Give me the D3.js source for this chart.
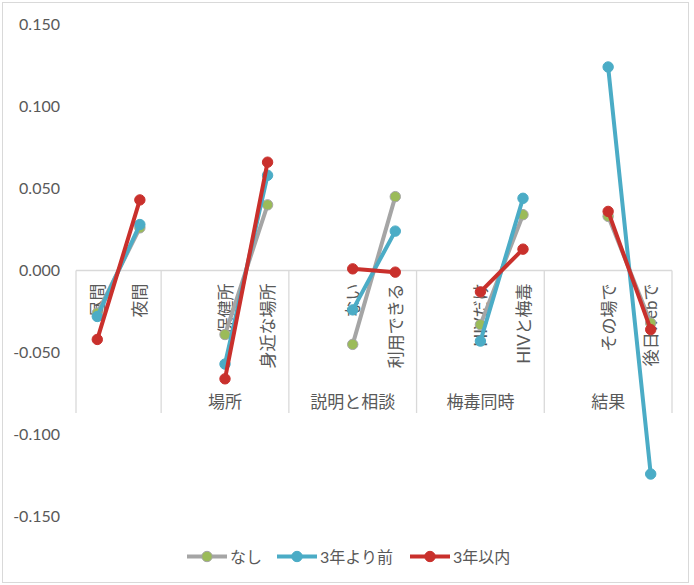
<!DOCTYPE html>
<html>
<head>
<meta charset="utf-8">
<script src="https://cdn.jsdelivr.net/npm/d3@7"></script>
<style>
  html, body { margin: 0; padding: 0; background: #fff; }
  svg { display: block; font-family: Lato, "Noto Sans CJK JP", sans-serif; }
</style>
</head>
<body>
<svg id="chart" width="694" height="585"></svg>
<script>
// Group headings and their sub-categories
const groupNames = ["", "場所", "説明と相談", "梅毒同時", "結果"];
const subCategories = [
  ["昼間", "夜間"],
  ["保健所", "身近な場所"],
  ["ない", "利用できる"],
  ["HIVだけ", "HIVと梅毒"],
  ["その場で", "後日webで"]
];

// Series names and values per group (two points per group)
const seriesNames = ["なし", "3年より前", "3年以内"];
const valuesNone   = [[-0.026, 0.026], [-0.039, 0.040], [-0.045, 0.045], [-0.033, 0.034], [0.033, -0.032]];
const valuesBefore = [[-0.028, 0.028], [-0.057, 0.058], [-0.024, 0.024], [-0.043, 0.044], [0.124, -0.124]];
const valuesWithin = [[-0.042, 0.043], [-0.066, 0.066], [0.001, -0.001], [-0.013, 0.013], [0.036, -0.036]];

const yTicks = [0.15, 0.10, 0.05, 0.00, -0.05, -0.10, -0.15];

const seriesValues = [valuesNone, valuesBefore, valuesWithin];
const seriesStyle = [
  { line: "#a5a5a5", fill: "#9bbb59", stroke: "#a5a5a5" },
  { line: "#4bacc6", fill: "#4bacc6", stroke: "#4bacc6" },
  { line: "#c9302c", fill: "#c9302c", stroke: "#c9302c" }
];

const textColor = "#595959";
const axisColor = "#d9d9d9";

const svg = d3.select("#chart");

// chart frame
svg.append("rect")
  .attr("x", 2.5).attr("y", 2.5)
  .attr("width", 686).attr("height", 580)
  .attr("fill", "#fff").attr("stroke", axisColor).attr("stroke-width", 1);

// Category slots: each group after the first starts with an empty slot
const slots = [];
const groupSlots = [];
subCategories.forEach((items, g) => {
  const ids = [];
  if (g > 0) { const id = "gap" + g; slots.push({ id, label: "" }); ids.push(id); }
  items.forEach((label, i) => {
    const id = "g" + g + "_" + i;
    slots.push({ id, label, g, i });
    ids.push(id);
  });
  groupSlots.push(ids);
});

const x = d3.scaleBand().domain(slots.map(s => s.id)).range([76, 672]).padding(0);
const y = d3.scaleLinear().domain([-0.15, 0.15]).range([516.7, 24.3]);
const cx = id => x(id) + x.bandwidth() / 2;
const y0 = y(0);

// value axis (labels only)
const fmt = d3.format(".3f");
const yAxis = d3.axisLeft(y)
  .tickValues(yTicks)
  .tickSize(0)
  .tickPadding(16)
  .tickFormat(d => fmt(d).replace("\u2212", "-"));
const gy = svg.append("g").attr("transform", "translate(76,0)").call(yAxis);
gy.select(".domain").remove();
gy.selectAll("text")
  .attr("fill", textColor)
  .style("font-size", "16px")
  .style("font-family", "Lato, 'Noto Sans CJK JP', sans-serif");

// category axis line at zero
const axisG = svg.append("g");
axisG.append("line")
  .attr("x1", x.range()[0]).attr("x2", x.range()[1])
  .attr("y1", y0).attr("y2", y0)
  .attr("stroke", axisColor).attr("stroke-width", 1.3);

// group dividers
const dividerX = groupSlots.map(ids => x(ids[0])).concat([x.range()[1]]);
axisG.selectAll("line.div")
  .data(dividerX)
  .join("line")
  .attr("class", "div")
  .attr("x1", d => d).attr("x2", d => d)
  .attr("y1", y0).attr("y2", 413)
  .attr("stroke", axisColor).attr("stroke-width", 1.3);

// sub-category labels (rotated)
axisG.selectAll("text.sub")
  .data(slots.filter(s => s.label))
  .join("text")
  .attr("class", "sub")
  .attr("transform", d => `translate(${cx(d.id)},${y0 + 13}) rotate(-90)`)
  .attr("text-anchor", "end")
  .attr("dominant-baseline", "central")
  .attr("fill", textColor)
  .style("font-size", "17px")
  .text(d => d.label);

// group labels
axisG.selectAll("text.grp")
  .data(groupNames.map((name, g) => ({ name, g })))
  .join("text")
  .attr("class", "grp")
  .attr("x", d => (dividerX[d.g] + dividerX[d.g + 1]) / 2)
  .attr("y", 401)
  .attr("text-anchor", "middle")
  .attr("dominant-baseline", "central")
  .attr("fill", textColor)
  .style("font-size", "17px")
  .text(d => d.name);

// series: one segment per group
seriesValues.forEach((vals, s) => {
  const st = seriesStyle[s];
  const g = svg.append("g");
  const pts = [];
  vals.forEach((pair, gi) => {
    const ids = groupSlots[gi].filter(id => !id.startsWith("gap"));
    const seg = pair.map((v, i) => [cx(ids[i]), y(v)]);
    pts.push(...seg);
    g.append("path")
      .attr("d", d3.line()(seg))
      .attr("fill", "none")
      .attr("stroke", st.line)
      .attr("stroke-width", 4)
      .attr("stroke-linecap", "round");
  });
  g.selectAll("circle")
    .data(pts)
    .join("circle")
    .attr("cx", d => d[0]).attr("cy", d => d[1])
    .attr("r", 5.2)
    .attr("fill", st.fill)
    .attr("stroke", st.stroke)
    .attr("stroke-width", 1);
});

// legend
const legendItems = [
  { x: 187, w: 40 },
  { x: 277, w: 40 },
  { x: 410, w: 40 }
];
const ly = 556.5;
const lg = svg.append("g");
seriesNames.forEach((name, s) => {
  const st = seriesStyle[s];
  const it = legendItems[s];
  lg.append("line")
    .attr("x1", it.x).attr("x2", it.x + it.w)
    .attr("y1", ly).attr("y2", ly)
    .attr("stroke", st.line).attr("stroke-width", 4);
  lg.append("circle")
    .attr("cx", it.x + it.w / 2).attr("cy", ly).attr("r", 5.2)
    .attr("fill", st.fill).attr("stroke", st.stroke).attr("stroke-width", 1);
  lg.append("text")
    .attr("x", it.x + it.w + 3).attr("y", ly)
    .attr("dominant-baseline", "central")
    .attr("fill", textColor)
    .style("font-size", "16px")
    .text(name);
});
</script>
</body>
</html>
